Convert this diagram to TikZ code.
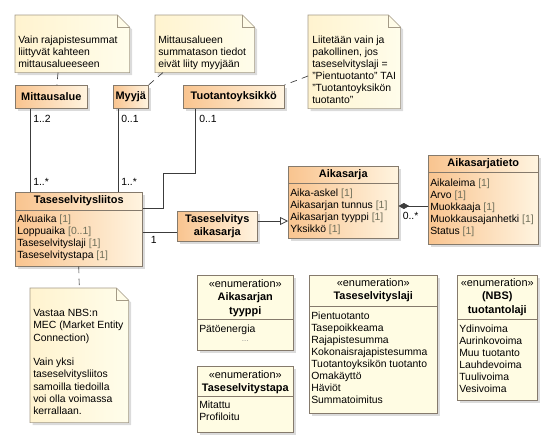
\documentclass[tikz,border=0pt]{standalone}
\usepackage{fontspec}
\setmainfont{Liberation Sans}
\usetikzlibrary{arrows.meta, calc, shadows}

\definecolor{clsdark}{HTML}{F9C48F}
\definecolor{clslight}{HTML}{FFF4E0}
\definecolor{clsline}{HTML}{857A6C}
\definecolor{enumfill}{HTML}{FFFCE3}
\definecolor{notedark}{HTML}{FFF3CF}
\definecolor{notelight}{HTML}{FFFDEB}
\definecolor{noteline}{HTML}{A49A86}
\definecolor{wire}{HTML}{3C3C3C}
\definecolor{multgray}{HTML}{6F6F5A}

\newcommand{\px}{0.75pt}
\newcommand{\attrfont}{\fontsize{7.8}{9}\selectfont}
\newcommand{\namefont}{\fontsize{8.2}{10}\selectfont\bfseries}
\newcommand{\mult}[1]{\textcolor{multgray}{[#1]}}
% folded-corner outline round an (empty) note node
\newcommand{\notebox}[1]{%
  \draw[noteshape] (#1.south west) -- (#1.north west) -- ($(#1.north east)+(-12,0)$)
    -- ($(#1.north east)+(0,12)$) -- (#1.south east) -- cycle;
  \draw[draw=noteline] ($(#1.north east)+(-12,0)$) |- ($(#1.north east)+(0,12)$);
}

\begin{document}
\begin{tikzpicture}[x=0.75pt, y=-0.75pt,
    boxshadow/.style={drop shadow={shadow xshift=2pt, shadow yshift=-2pt, fill=black!40, opacity=0.35}},
    cls/.style={draw=clsline, anchor=north west, inner sep=0pt,
                left color=clsdark, right color=clslight, boxshadow},
    enum/.style={draw=clsline, anchor=north west, inner sep=0pt,
                 fill=enumfill, boxshadow},
    note/.style={anchor=north west, inner sep=0pt},
    noteshape/.style={draw=noteline, left color=notedark, right color=notelight, boxshadow},
    title/.style={font=\namefont, align=center, inner sep=0pt},
    attr/.style={font=\attrfont, align=left, anchor=north west, inner sep=0pt},
    multlbl/.style={font=\attrfont, anchor=west, inner sep=0pt},
    wire/.style={draw=wire, line width=0.6pt},
    anchorline/.style={draw=wire, line width=0.5pt, dash pattern=on 5pt off 4pt},
    gen/.style={wire, -{Triangle[open, length=6pt, width=6pt, fill=white]}},
    comp/.style={wire, {Diamond[length=8pt, width=4.5pt, fill=wire]}-}
]
  \useasboundingbox (0,0) rectangle (555,446);

  % notes
  \node[note, minimum width=114*\px, minimum height=57*\px] (vrnote) at (15,15) {};
  \notebox{vrnote}
  \node[attr] (vrtext) at (18,36) {Vain rajapistesummat\\liittyvät kahteen\\mittausalueeseen};

  \node[note, minimum width=99*\px, minimum height=57*\px] (msnote) at (155,15) {};
  \notebox{msnote}
  \node[attr] (mstext) at (158,36) {Mittausalueen\\summatason tiedot\\eivät liity myyjään};

  \node[note, minimum width=92*\px, minimum height=93*\px] (linote) at (308,15) {};
  \notebox{linote}
  \node[attr] (litext) at (312,36) {Liitetään vain ja\\pakollinen, jos\\taseselvityslaji =\\"Pientuotanto" TAI\\"Tuotantoyksikön\\tuotanto"};

  \node[note, minimum width=98*\px, minimum height=134*\px] (vnnote) at (30,288) {};
  \notebox{vnnote}
  \node[attr, font={\fontsize{7.8}{9.3}\selectfont}] (vntext) at (33,309)
    {Vastaa NBS:n\\MEC (Market Entity\\Connection)\\[8.7pt]Vain yksi\\taseselvitysliitos\\samoilla tiedoilla\\voi olla voimassa\\kerrallaan.};

  % classes
  \node[cls, minimum width=72*\px, minimum height=23*\px, font=\namefont] (mitta) at (15,85) {Mittausalue};
  \node[cls, minimum width=35*\px, minimum height=23*\px, font=\namefont] (myyja) at (113,85) {Myyjä};
  \node[cls, minimum width=101*\px, minimum height=23*\px, font=\namefont] (tuot) at (183,85) {Tuotantoyksikkö};

  \node[cls, minimum width=127*\px, minimum height=74*\px] (liitos) at (15,192) {};
  \draw[draw=clsline] ($(liitos.north west)+(0,18)$) -- ($(liitos.north east)+(0,18)$);
  \node[title] (liitosname) at ($(liitos.north)+(0,9)$) {Taseselvitysliitos};
  \node[attr] (liitosattr) at ($(liitos.north west)+(2,23)$)
    {Alkuaika \mult{1}\\Loppuaika \mult{0..1}\\Taseselvityslaji \mult{1}\\Taseselvitystapa \mult{1}};

  \node[cls, minimum width=80*\px, minimum height=30*\px, font=\namefont, align=center] (tsaik) at (177,211)
    {Taseselvitys\\aikasarja};

  \node[cls, minimum width=110*\px, minimum height=72*\px] (aik) at (288,166) {};
  \draw[draw=clsline] ($(aik.north west)+(0,17)$) -- ($(aik.north east)+(0,17)$);
  \node[title] (aikname) at ($(aik.north)+(0,9)$) {Aikasarja};
  \node[attr] (aikattr) at ($(aik.north west)+(2,23)$)
    {Aika-askel \mult{1}\\Aikasarjan tunnus \mult{1}\\Aikasarjan tyyppi \mult{1}\\Yksikkö \mult{1}};

  \node[cls, minimum width=110*\px, minimum height=89*\px] (aikt) at (428,155) {};
  \draw[draw=clsline] ($(aikt.north west)+(0,17)$) -- ($(aikt.north east)+(0,17)$);
  \node[title] (aiktname) at ($(aikt.north)+(0,9)$) {Aikasarjatieto};
  \node[attr] (aiktattr) at ($(aikt.north west)+(2,24)$)
    {Aikaleima \mult{1}\\Arvo \mult{1}\\Muokkaaja \mult{1}\\Muokkausajanhetki \mult{1}\\Status \mult{1}};

  % enumerations
  \node[enum, minimum width=96*\px, minimum height=75*\px] (tyyppi) at (197,275) {};
  \draw[draw=clsline] ($(tyyppi.north west)+(0,44)$) -- ($(tyyppi.north east)+(0,44)$);
  \node[title] (tyyppiname) at ($(tyyppi.north)+(0,23)$) {{\mdseries «enumeration»}\\Aikasarjan\\tyyppi};
  \node[attr] (tyyppiattr) at ($(tyyppi.north west)+(2,50)$) {Pätöenergia};
  \node[attr, anchor=center, text=black!45, font=\fontsize{6}{6}\selectfont] (tyyppidots) at ($(tyyppi.north)+(0,66)$) {...};

  \node[enum, minimum width=96*\px, minimum height=66*\px] (tapa) at (197,366) {};
  \draw[draw=clsline] ($(tapa.north west)+(0,30)$) -- ($(tapa.north east)+(0,30)$);
  \node[title] (tapaname) at ($(tapa.north)+(0,16)$) {{\mdseries «enumeration»}\\Taseselvitystapa};
  \node[attr] (tapaattr) at ($(tapa.north west)+(2,35)$) {Mitattu\\Profiloitu};

  \node[enum, minimum width=128*\px, minimum height=138*\px] (laji) at (309,275) {};
  \draw[draw=clsline] ($(laji.north west)+(0,31)$) -- ($(laji.north east)+(0,31)$);
  \node[title] (lajiname) at ($(laji.north)+(0,15)$) {{\mdseries «enumeration»}\\Taseselvityslaji};
  \node[attr] (lajiattr) at ($(laji.north west)+(2,37)$)
    {Pientuotanto\\Tasepoikkeama\\Rajapistesumma\\Kokonaisrajapistesumma\\Tuotantoyksikön tuotanto\\Omakäyttö\\Häviöt\\Summatoimitus};

  \node[enum, minimum width=80*\px, minimum height=125*\px] (tlaji) at (457,275) {};
  \draw[draw=clsline] ($(tlaji.north west)+(0,44)$) -- ($(tlaji.north east)+(0,44)$);
  \node[title] (tlajiname) at ($(tlaji.north)+(0,22)$) {{\mdseries «enumeration»}\\(NBS)\\tuotantolaji};
  \node[attr] (tlajiattr) at ($(tlaji.north west)+(2,50)$)
    {Ydinvoima\\Aurinkovoima\\Muu tuotanto\\Lauhdevoima\\Tuulivoima\\Vesivoima};

  % associations
  \draw[wire] ($(mitta.south west)+(15,0)$) -- ($(liitos.north west)+(15,0)$);
  \node[multlbl] (mittaup) at ($(mitta.south west)+(18,10)$) {1..2};
  \node[multlbl] (mittalow) at ($(liitos.north west)+(18,-10)$) {1..*};

  \draw[wire] ($(myyja.south west)+(5,0)$) -- ($(liitos.north west)+(103,0)$);
  \node[multlbl] (myyjaup) at ($(myyja.south west)+(8,10)$) {0..1};
  \node[multlbl] (myyjalow) at ($(liitos.north west)+(106,-10)$) {1..*};

  \coordinate (tbend) at (163,173);
  \draw[wire] ($(tuot.south west)+(12,0)$) |- (tbend) |- ($(liitos.north east)+(0,16)$);
  \node[multlbl] (tuotup) at ($(tuot.south west)+(16,10)$) {0..1};

  \draw[wire] ($(liitos.north east)+(0,40)$) -- ($(tsaik.north west)+(0,21)$);
  \node[multlbl] (liitosone) at ($(liitos.north east)+(8,48)$) {1};

  \draw[gen] ($(tsaik.north east)+(0,10)$) -- ($(aik.north west)+(0,55)$);

  \draw[comp] ($(aik.north east)+(0,40)$) -- ($(aikt.north west)+(0,51)$);
  \node[multlbl] (aiktmany) at ($(aik.north east)+(4,50)$) {0..*};

  % note anchors
  \draw[anchorline] ($(vrnote.south west)+(43,0)$) -- ($(mitta.north west)+(42,0)$);
  \draw[anchorline] ($(msnote.south west)+(8,0)$) -- (myyja.north east);
  \draw[anchorline] ($(linote.north west)+(0,61)$) -- (tuot.north east);
  \draw[anchorline] (liitos.south) -- (vnnote.north);
\end{tikzpicture}
\end{document}
